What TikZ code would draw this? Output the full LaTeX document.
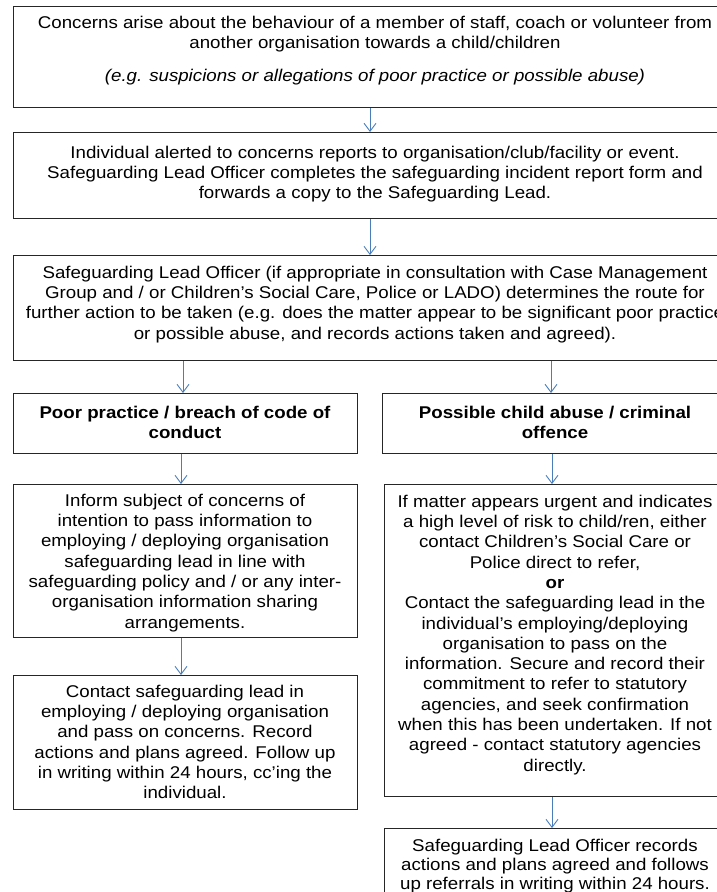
\documentclass[tikz,border=0pt]{standalone}
\usepackage{fontspec}
\setmainfont[FakeStretch=1.10]{Liberation Sans}
\usetikzlibrary{arrows.meta}
\definecolor{arrowblue}{RGB}{74,126,187}
\begin{document}
\begin{tikzpicture}[x=1pt,y=-1pt,
  box/.style={draw=black!85, line width=1.2pt, inner sep=0pt, anchor=north west},
  txt/.style={anchor=north, align=center, inner sep=0pt, font=\fontsize{17}{20.3}\selectfont},
  arr/.style={draw=arrowblue, line width=0.9pt, -{Straight Barb[length=8pt,width=12pt]}}]
\useasboundingbox (0,0) rectangle (717,892);
\clip (0,0) rectangle (717,892);
% boxes
\node[box, minimum width=724pt, minimum height=101pt] (b1) at (13,6) {};
\node[box, minimum width=724pt, minimum height=86pt] (b2) at (13,132) {};
\node[box, minimum width=724pt, minimum height=105pt] (b3) at (13,255) {};
\node[box, minimum width=344pt, minimum height=60pt] (h1) at (13,393) {};
\node[box, minimum width=345pt, minimum height=60pt] (h2) at (382,393) {};
\node[box, minimum width=344pt, minimum height=153pt] (a1) at (13,484) {};
\node[box, minimum width=344pt, minimum height=134pt] (a2) at (13,675) {};
\node[box, minimum width=343pt, minimum height=312pt] (c1) at (384,484) {};
\node[box, minimum width=343pt, minimum height=100pt] (c2) at (384,828) {};
% texts
\node[txt] (t1) at (375,13.8) {\strut Concerns arise about the behaviour of a member of staff, coach or volunteer from\\another organisation towards a child/children\\[12.7pt]\textit{(e.g. suspicions or allegations of poor practice or possible abuse)}};
\node[txt] (t2) at (375,143.8) {\strut Individual alerted to concerns reports to organisation/club/facility or event.\\Safeguarding Lead Officer completes the safeguarding incident report form and\\forwards a copy to the Safeguarding Lead.};
\node[txt] (t3) at (375,263.8) {\strut Safeguarding Lead Officer (if appropriate in consultation with Case Management\\Group and / or Children’s Social Care, Police or LADO) determines the route for\\further action to be taken (e.g. does the matter appear to be significant poor practice\\or possible abuse, and records actions taken and agreed).};
\node[txt, font=\fontsize{17}{20.3}\selectfont\bfseries] (th1) at (185,403.8) {\strut Poor practice / breach of code of\\conduct};
\node[txt, font=\fontsize{17}{20.3}\selectfont\bfseries] (th2) at (555,403.8) {\strut Possible child abuse / criminal\\offence};
\node[txt] (ta1) at (185,491.8) {\strut Inform subject of concerns of\\intention to pass information to\\employing / deploying organisation\\safeguarding lead in line with\\safeguarding policy and / or any inter-\\organisation information sharing\\arrangements.};
\node[txt] (ta2) at (185,682.8) {\strut Contact safeguarding lead in\\employing / deploying organisation\\and pass on concerns. Record\\actions and plans agreed. Follow up\\in writing within 24 hours, cc’ing the\\individual.};
\node[txt] (tc1) at (555,492.8) {\strut If matter appears urgent and indicates\\a high level of risk to child/ren, either\\contact Children’s Social Care or\\Police direct to refer,\\\textbf{or}\\Contact the safeguarding lead in the\\individual’s employing/deploying\\organisation to pass on the\\information. Secure and record their\\commitment to refer to statutory\\agencies, and seek confirmation\\when this has been undertaken. If not\\agreed - contact statutory agencies\\directly.};
\node[txt, font=\fontsize{17}{19.3}\selectfont] (tc2) at (555,837.5) {\strut Safeguarding Lead Officer records\\actions and plans agreed and follows\\up referrals in writing within 24 hours.};
% arrows
\draw[arr] ([xshift=357pt]b1.south west) -- ([xshift=357pt]b2.north west);
\draw[arr] ([xshift=357pt]b2.south west) -- ([xshift=357pt]b3.north west);
\draw[arr] ([xshift=170pt]b3.south west) -- ([xshift=170pt]h1.north west);
\draw[arr] ([xshift=538pt]b3.south west) -- ([xshift=169pt]h2.north west);
\draw[arr] ([xshift=168pt]h1.south west) -- ([xshift=168pt]a1.north west);
\draw[arr] ([xshift=170pt]h2.south west) -- ([xshift=168pt]c1.north west);
\draw[arr] ([xshift=168pt]a1.south west) -- ([xshift=168pt]a2.north west);
\draw[arr] ([xshift=168pt]c1.south west) -- ([xshift=168pt]c2.north west);
\end{tikzpicture}
\end{document}
